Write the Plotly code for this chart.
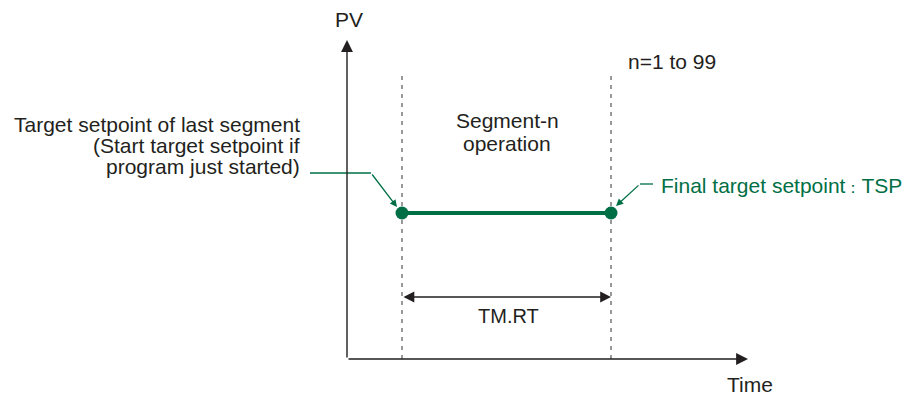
import plotly.graph_objects as go

# segment n (soak): start/end time and PV at both ends
SEG_TIME = [1.0, 4.8]
SEG_PV = [2.0, 2.0]

GREEN = "#006F45"
INK = "#231F20"
DASH = "#555555"
FONT = "Liberation Sans, Arial, sans-serif"

# layout helpers: convert a pixel position of the 905x396 canvas into axis units
X0, XS = 347, 55.0
Y0, YS = 359, 73.0


def tx(px):
    return (px - X0) / XS


def ty(py):
    return (Y0 - py) / YS


fig = go.Figure()

# dashed segment borders
for t in SEG_TIME:
    fig.add_trace(go.Scatter(
        x=[t, t], y=[0, ty(73)], mode="lines",
        line=dict(color=DASH, width=1.2, dash="4px,5px"),
        hoverinfo="skip",
    ))

# the segment itself
fig.add_trace(go.Scatter(
    x=SEG_TIME, y=SEG_PV, mode="lines+markers",
    line=dict(color=GREEN, width=4),
    marker=dict(color=GREEN, size=13),
    hoverinfo="skip",
))

# leader horizontal parts
fig.add_shape(type="line", x0=tx(310), y0=ty(173), x1=tx(371), y1=ty(173),
              line=dict(color=GREEN, width=1.3))
fig.add_shape(type="line", x0=tx(640), y0=ty(184), x1=tx(653), y1=ty(184),
              line=dict(color=GREEN, width=1.3))


def arrow(x, y, ax, ay, color, width, size=1.0, head=2, side="end"):
    fig.add_annotation(
        x=x, y=y, ax=ax, ay=ay, xref="x", yref="y", axref="x", ayref="y",
        text="", showarrow=True, arrowhead=head, arrowsize=size,
        arrowwidth=width, arrowcolor=color, arrowside=side, standoff=0,
    )


# axes
arrow(tx(748), 0, 0, 0, INK, 1.4, 1.7)
arrow(0, ty(40), 0, 0, INK, 1.4, 1.7)

# TM.RT span
arrow(SEG_TIME[1], ty(297), SEG_TIME[0], ty(297), INK, 1.6, 1.35, side="end+start")

# leaders to the end points
arrow(tx(397), ty(207), tx(371), ty(173), GREEN, 1.3, 1.1)
arrow(tx(616), ty(206), tx(640), ty(184), GREEN, 1.3, 1.1)


def label(text, px, py, anchor="center", color=INK, size=21):
    fig.add_annotation(
        x=tx(px), y=ty(py), xref="x", yref="y", text=text, showarrow=False,
        xanchor=anchor, yanchor="middle",
        font=dict(family=FONT, size=size, color=color),
    )


label("PV", 349, 19)
label("Time", 750, 384)
label("n=1 to 99", 672, 61)
label("Segment-n", 507, 120)
label("operation", 507, 143)
label("TM.RT", 508, 316, size=20)
label("Target setpoint of last segment", 302, 124, "right")
label("(Start target setpoint if", 302, 145, "right")
label("program just started)", 302, 166, "right")
label('Final target setpoint<span style="font-size:16px">：</span>TSP',
      659, 185, "left", GREEN)

fig.update_layout(
    width=905, height=396,
    margin=dict(l=0, r=0, t=0, b=0),
    paper_bgcolor="white", plot_bgcolor="white",
    showlegend=False,
    xaxis=dict(range=[tx(0), tx(905)], visible=False, fixedrange=True),
    yaxis=dict(range=[ty(396), ty(0)], visible=False, fixedrange=True),
)

fig.write_html("out.html", config={"displayModeBar": False},
               post_script="document.body.style.margin='0';")
